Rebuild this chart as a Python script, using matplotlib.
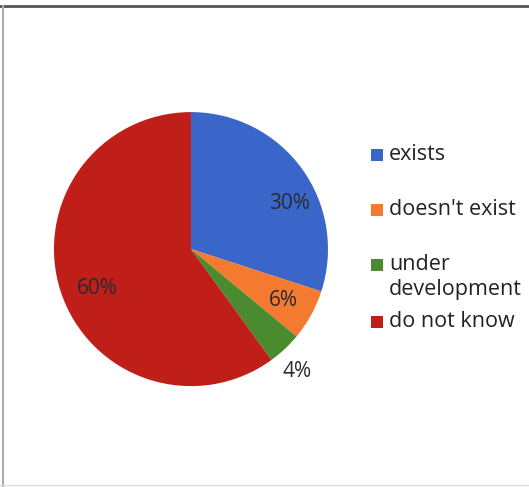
import numpy as np
import matplotlib.pyplot as plt
from matplotlib.lines import Line2D
from matplotlib.patches import Rectangle

categories = ["exists", "doesn't exist", "under\ndevelopment", "do not know"]
shares = [30, 6, 4, 60]
colors = ["#3b66c9", "#f37a2e", "#4a8b2f", "#bf1f18"]

# where each percentage label sits: (angle in degrees, radius as fraction of pie radius)
label_pos = [(25, 0.79), (-29, 0.77), (-49, 1.18), (203, 0.74)]
# legend rows, top of each entry in pixels from the top of the figure
legend_rows = [144, 199, 254, 311]

plt.rcParams['font.family'] = ['Open Sans', 'DejaVu Sans']

W, H = 529, 487
fig = plt.figure(figsize=(W / 100, H / 100), dpi=100)
ax = fig.add_axes([0.102, 0.207, 0.518, 0.563])

wedges, _ = ax.pie(shares, colors=colors, startangle=90, counterclock=False,
                   radius=1.0, wedgeprops=dict(linewidth=0))
ax.set_xlim(-1, 1)
ax.set_ylim(-1, 1)
ax.set_aspect('equal')

for val, (ang, r) in zip(shares, label_pos):
    t = np.deg2rad(ang)
    ax.text(r * np.cos(t), r * np.sin(t), f"{val}%", ha='center', va='center',
            fontsize=15, color="#2a2a33")

# legend drawn by hand so the wrapped entry keeps tight spacing
for name, c, top in zip(categories, colors, legend_rows):
    fig.add_artist(Rectangle((371 / W, 1 - (top + 17) / H), 12 / W, 12 / H,
                             facecolor=c, edgecolor='none', transform=fig.transFigure))
    fig.text(389 / W, 1 - top / H, name, ha='left', va='top', fontsize=15.5,
             color="#222222", linespacing=1.28)

# outer frame lines
fig.add_artist(Line2D([0, 1], [0.987, 0.987], color="#555555", lw=2, transform=fig.transFigure))
fig.add_artist(Line2D([0.006, 0.006], [0.0, 0.987], color="#aaaaaa", lw=1.5, transform=fig.transFigure))
fig.add_artist(Line2D([0, 1], [0.004, 0.004], color="#dddddd", lw=1, transform=fig.transFigure))

fig.savefig("out.png", dpi=100)
